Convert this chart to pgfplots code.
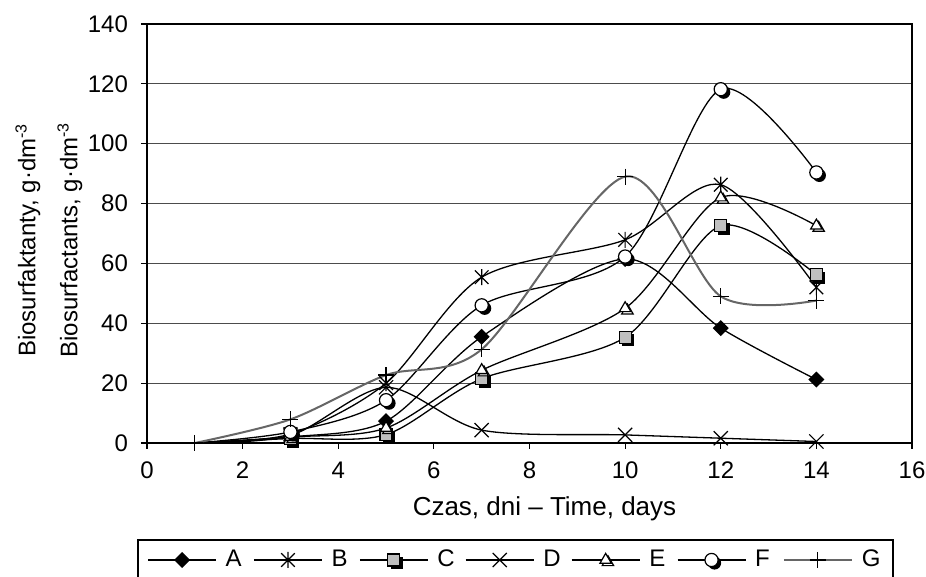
\documentclass[border=0pt]{standalone}
\usepackage{fontspec}
\setmainfont{Liberation Sans}
\usepackage{pgfplots}
\pgfplotsset{compat=1.18}

\definecolor{mkgray}{gray}{0.75}
\definecolor{ggray}{gray}{0.4}

% Excel-like markers with a dark drop shadow
\pgfdeclareplotmark{shsquare}{%
  \pgfpathrectangle{\pgfqpoint{-0.5\pgfplotmarksize}{-1.5\pgfplotmarksize}}{\pgfqpoint{2\pgfplotmarksize}{2\pgfplotmarksize}}%
  \pgfsetfillcolor{black}\pgfusepath{fill}%
  \pgfpathrectangle{\pgfqpoint{-\pgfplotmarksize}{-\pgfplotmarksize}}{\pgfqpoint{2\pgfplotmarksize}{2\pgfplotmarksize}}%
  \pgfsetfillcolor{mkgray}\pgfusepath{fill,stroke}}
\pgfdeclareplotmark{shcircle}{%
  \pgfpathcircle{\pgfqpoint{0.45\pgfplotmarksize}{-0.45\pgfplotmarksize}}{\pgfplotmarksize}%
  \pgfsetfillcolor{black}\pgfusepath{fill}%
  \pgfpathcircle{\pgfpointorigin}{\pgfplotmarksize}%
  \pgfsetfillcolor{white}\pgfusepath{fill,stroke}}
\pgfdeclareplotmark{shtriangle}{%
  \pgfpathmoveto{\pgfqpoint{0.35\pgfplotmarksize}{0.65\pgfplotmarksize}}%
  \pgfpathlineto{\pgfqpoint{-0.516\pgfplotmarksize}{-0.85\pgfplotmarksize}}%
  \pgfpathlineto{\pgfqpoint{1.216\pgfplotmarksize}{-0.85\pgfplotmarksize}}%
  \pgfpathclose\pgfusepath{stroke}%
  \pgfpathmoveto{\pgfqpoint{0pt}{\pgfplotmarksize}}%
  \pgfpathlineto{\pgfqpoint{-0.866\pgfplotmarksize}{-0.5\pgfplotmarksize}}%
  \pgfpathlineto{\pgfqpoint{0.866\pgfplotmarksize}{-0.5\pgfplotmarksize}}%
  \pgfpathclose\pgfsetfillcolor{white}\pgfusepath{fill,stroke}}
\pgfdeclareplotmark{xstar}{%
  \pgfpathmoveto{\pgfqpoint{0pt}{\pgfplotmarksize}}%
  \pgfpathlineto{\pgfqpoint{0pt}{-\pgfplotmarksize}}%
  \pgfpathmoveto{\pgfqpoint{-0.85\pgfplotmarksize}{-0.85\pgfplotmarksize}}%
  \pgfpathlineto{\pgfqpoint{0.85\pgfplotmarksize}{0.85\pgfplotmarksize}}%
  \pgfpathmoveto{\pgfqpoint{-0.85\pgfplotmarksize}{0.85\pgfplotmarksize}}%
  \pgfpathlineto{\pgfqpoint{0.85\pgfplotmarksize}{-0.85\pgfplotmarksize}}%
  \pgfusepath{stroke}}

\begin{document}
\begin{tikzpicture}
\begin{axis}[scale only axis,width=382.5pt,height=209.5pt,
  xmin=0,xmax=16,ymin=0,ymax=140,
  xtick={0,2,...,16},ytick={0,20,...,140},
  xtick pos=bottom,ytick pos=left,
  tick align=outside,major tick length=3pt,
  tick style={black,line width=0.6pt},
  axis line style={line width=0.7pt},
  ymajorgrids,grid style={black!70,line width=0.5pt},
  /pgf/number format/assume math mode=true,
  tick label style={font=\fontsize{12}{14}\selectfont},
  x tick label style={yshift=-3pt},
  y tick label style={xshift=-3pt},
  xlabel={Czas, dni – Time, days},
  xlabel style={at={(axis description cs:0.5,0)},anchor=center,
    yshift=-33pt,xshift=7.5pt,font=\fontsize{13}{15}\selectfont},
  legend columns=7,
  legend style={draw=none,fill=none,at={(0,0)},anchor=west,yshift=-58.5pt,
    inner sep=0pt,font=\fontsize{12}{14}\selectfont,
    nodes={inner sep=0pt},cells={anchor=west},
    /tikz/every odd column/.append style={column sep=4.5pt},
    /tikz/every even column/.append style={column sep=4.8pt}},
  legend image code/.code={%
    \draw[#1,mark indices={2}] plot coordinates {(0pt,0pt) (17pt,0pt) (34pt,0pt)};},
  every axis plot/.append style={black,line width=0.65pt,smooth},
  clip=false]

% A
\addplot[mark=square*,mark size=2.5pt,mark options={rotate=45,solid},
  mark indices={2,3,4,5,6,7}] coordinates {
  (1,0)(3,2)(5,7.3)(7,35.5)(10,61.5)(12,38.4)(14,21.2)};
% B
\addplot[mark=xstar,mark size=4pt,mark options={solid,line width=0.6pt},
  mark indices={2,3,4,5,6,7}] coordinates {
  (1,0)(3,3)(5,20)(7,55.4)(10,67.9)(12,86.3)(14,52)};
% C
\addplot[mark=shsquare,mark size=3pt,mark options={solid,line width=0.6pt},
  mark indices={2,3,4,5,6,7}] coordinates {
  (1,0)(3,1.5)(5,2.8)(7,21.5)(10,35.3)(12,72.6)(14,56.2)};
% D
\addplot[mark=x,mark size=5pt,mark options={solid,line width=0.6pt},
  mark indices={2,3,4,5,6,7}] coordinates {
  (1,0)(3,2.5)(5,18.6)(7,4.3)(10,2.7)(12,1.6)(14,0.5)};
% E
\addplot[mark=shtriangle,mark size=3.3pt,mark options={solid,line width=0.6pt},
  mark indices={2,3,4,5,6,7}] coordinates {
  (1,0)(3,2)(5,5)(7,24.3)(10,45)(12,82)(14,72.6)};
% F
\addplot[mark=shcircle,mark size=3.3pt,mark options={solid,line width=0.6pt},
  mark indices={2,3,4,5,6,7}] coordinates {
  (1,0)(3,3.7)(5,14.3)(7,46)(10,62.3)(12,118.2)(14,90.4)};
% G
\addplot[ggray,line width=1pt,mark=+,mark size=4pt,
  mark options={black,solid,line width=0.6pt}] coordinates {
  (1,0)(3,7.9)(5,22.7)(7,31.3)(10,89)(12,49)(14,47.6)};

\legend{\makebox[9pt][l]{A},\makebox[9pt][l]{B},\makebox[9pt][l]{C},
  \makebox[9pt][l]{D},\makebox[9pt][l]{E},\makebox[9pt][l]{F},\makebox[9pt][l]{G}}

\coordinate (sw) at (rel axis cs:0,0);
\coordinate (se) at (rel axis cs:1,0);
\coordinate (ne) at (rel axis cs:1,1);
\node[rotate=90,font=\fontsize{12}{14}\selectfont]
  at ([xshift=-59.5pt]rel axis cs:0,0.4845) {Biosurfaktanty, g·dm\textsuperscript{-3}};
\node[rotate=90,font=\fontsize{12}{14}\selectfont]
  at ([xshift=-38.5pt]rel axis cs:0,0.4845) {Biosurfactants, g·dm\textsuperscript{-3}};
\end{axis}
\draw[line width=0.6pt] ([shift={(-4.5pt,-80pt)}]sw) -- ([shift={(-4.5pt,-48.5pt)}]sw)
  -- ([shift={(-9.5pt,-48.5pt)}]se) -- ([shift={(-9.5pt,-80pt)}]se);
\pgfresetboundingbox
\path[use as bounding box] ([shift={(-73.5pt,-67pt)}]sw) rectangle ([shift={(7pt,12pt)}]ne);
\end{tikzpicture}
\end{document}
